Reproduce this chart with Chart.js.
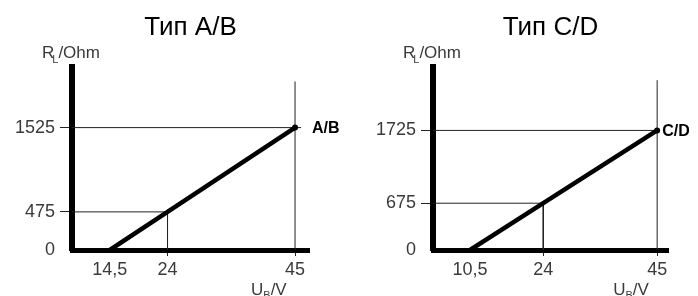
<!DOCTYPE html>
<html>
<head>
<meta charset="utf-8">
<script src="https://cdn.jsdelivr.net/npm/chart.js@4.4.1/dist/chart.umd.min.js"></script>
<style>
html,body{margin:0;padding:0;background:#fff;}
#wrap{display:flex;width:698px;height:296px;overflow:hidden;}
canvas{display:block;}
</style>
</head>
<body>
<div id="wrap">
  <canvas id="chart-ab" width="348" height="296"></canvas>
  <canvas id="chart-cd" width="350" height="296"></canvas>
</div>
<script>
// ── Data ──
const abTitle='Тип A/B', cdTitle='Тип C/D';
const abTag='A/B', cdTag='C/D';
const abU=[14.5,24,45], abR=[0,475,1525];   // U_B/V vs R_L/Ohm
const cdU=[10.5,24,45], cdR=[0,675,1725];

const FONT='"Liberation Sans", Arial, sans-serif';

// ── Text plugin: titles, axis names, curve tag ──
const textPlugin={id:'texts',afterDraw(c){
  const o=c.options.plugins.texts, ctx=c.ctx, a=c.chartArea;
  const xs=c.scales.x, ys=c.scales.y;
  ctx.save();
  ctx.fillStyle='#000';
  ctx.font='26px '+FONT; ctx.textAlign='center'; ctx.textBaseline='alphabetic';
  ctx.fillText(o.title,(a.left+a.right)/2,35);

  // R_L/Ohm
  ctx.fillStyle='#3a3a3a'; ctx.textAlign='left';
  let x=a.left-30;
  ctx.font='17px '+FONT; ctx.fillText('R',x,58); x+=ctx.measureText('R').width-2;
  ctx.font='11px '+FONT; ctx.fillText('L',x,63); x+=ctx.measureText('L').width;
  ctx.font='17px '+FONT; ctx.fillText('/Ohm',x,58);

  // U_B/V
  x=xs.getPixelForValue(o.u[2])-44;
  ctx.font='17px '+FONT; ctx.fillText('U',x,295); x+=ctx.measureText('U').width;
  ctx.font='11px '+FONT; ctx.fillText('B',x,299); x+=ctx.measureText('B').width;
  ctx.font='17px '+FONT; ctx.fillText('/V',x,295);

  // curve tag
  ctx.fillStyle='#000'; ctx.font='bold 16px '+FONT; ctx.textBaseline='middle';
  ctx.fillText(o.tag,xs.getPixelForValue(o.u[2])+o.tagDx,ys.getPixelForValue(o.r[2])+1);
  ctx.restore();
}};

function fmt(v){return String(v).replace('.',',');}

function makeChart(id,cfg){
  const u=cfg.u, r=cfg.r;
  const guide={borderColor:'#222',borderWidth:1,pointRadius:0,showLine:true,fill:false,tension:0};
  return new Chart(document.getElementById(id),{
    type:'scatter',
    data:{datasets:[
      {data:u.map((v,i)=>({x:v,y:r[i]})),borderColor:'#000',borderWidth:4.5,showLine:true,
        borderCapStyle:'butt',pointBackgroundColor:'#000',pointBorderWidth:0,
        pointRadius:ctx=>ctx.dataIndex===u.length-1?3:0},
      Object.assign({data:[{x:cfg.xMin,y:r[1]},{x:u[1],y:r[1]},{x:u[1],y:0}]},guide),
      Object.assign({data:[{x:cfg.xMin,y:r[2]},{x:cfg.hEnd,y:r[2]}]},guide),
      Object.assign({data:[{x:u[2],y:0},{x:u[2],y:cfg.vTop}]},guide)
    ]},
    options:{
      responsive:false,animation:false,
      layout:{padding:{top:67,right:cfg.padRight,left:0,bottom:0}},
      plugins:{legend:{display:false},tooltip:{enabled:false},
        texts:{title:cfg.title,tag:cfg.tag,u:u,r:r,tagDx:cfg.tagDx}},
      scales:{
        x:{type:'linear',min:cfg.xMin,max:cfg.xMax,
          afterBuildTicks:s=>{s.ticks=u.map(v=>({value:v}));},
          afterFit:s=>{s.height=46;},
          border:{display:true,color:'#000',width:5},
          grid:{drawOnChartArea:false,drawTicks:true,tickLength:6,lineWidth:1,
            color:ctx=>ctx.tick&&ctx.tick.value===u[0]?'rgba(0,0,0,0)':'#222'},
          ticks:{autoSkip:false,maxRotation:0,padding:3,color:'#3a3a3a',font:{family:FONT,size:18},
            callback:v=>fmt(v)}},
        y:{type:'linear',min:0,max:cfg.yMax,
          afterBuildTicks:s=>{s.ticks=r.map(v=>({value:v}));},
          afterFit:s=>{s.width=cfg.axisW;},
          border:{display:true,color:'#000',width:6},
          grid:{drawOnChartArea:false,drawTicks:true,tickLength:12,lineWidth:1,
            color:ctx=>ctx.tick&&ctx.tick.value===0?'rgba(0,0,0,0)':'#222'},
          ticks:{autoSkip:false,padding:5,color:'#3a3a3a',font:{family:FONT,size:18},
            callback:v=>fmt(v)}}
      }
    },
    plugins:[textPlugin]
  });
}

makeChart('chart-ab',{u:abU,r:abR,title:abTitle,tag:abTag,
  xMin:8.27,xMax:47.3,yMax:2280,vTop:2100,hEnd:46,axisW:72,padRight:39,tagDx:17});
makeChart('chart-cd',{u:cdU,r:cdR,title:cdTitle,tag:cdTag,
  xMin:3.67,xMax:47,yMax:2640,vTop:2450,hEnd:45.2,axisW:85,padRight:30,tagDx:5});
</script>
</body>
</html>
